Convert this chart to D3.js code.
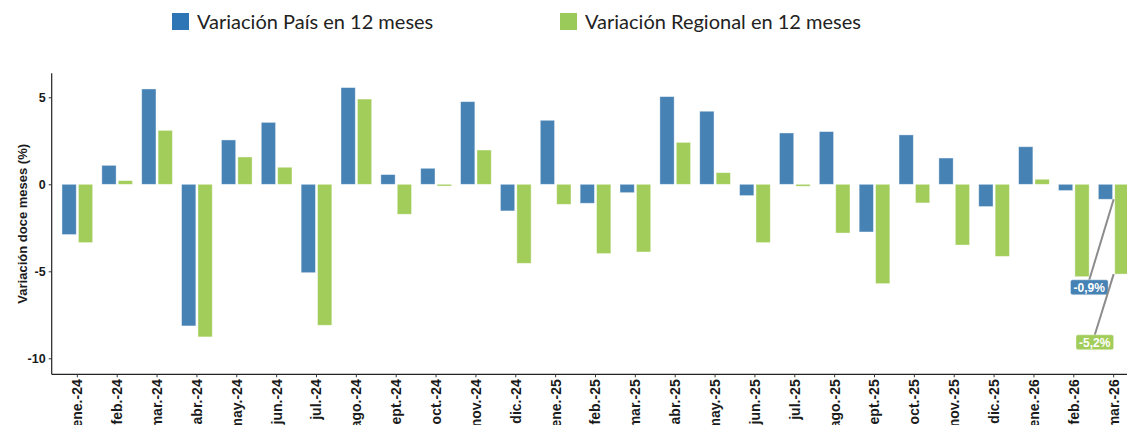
<!DOCTYPE html>
<html>
<head>
<meta charset="utf-8">
<script src="https://cdn.jsdelivr.net/npm/d3@7"></script>
<style>
  body { margin: 0; background: #fff; }
  svg { display: block; }
</style>
</head>
<body>
<svg id="chart"></svg>
<script>
// month labels on the x axis
const months = ["ene.-24", "feb.-24", "mar.-24", "abr.-24", "may.-24", "jun.-24", "jul.-24", "ago.-24", "sept.-24",
    "oct.-24", "nov.-24", "dic.-24", "ene.-25", "feb.-25", "mar.-25", "abr.-25", "may.-25", "jun.-25", "jul.-25",
    "ago.-25", "sept.-25", "oct.-25", "nov.-25", "dic.-25", "ene.-26", "feb.-26", "mar.-26"]

// twelve month variation, country (%)
const pais = [-2.89, 1.09, 5.48, -8.14, 2.55, 3.56, -5.08, 5.56, 0.56, 0.92, 4.75, -1.53, 3.68, -1.09, -0.48,
    5.04, 4.20, -0.65, 2.95, 3.03, -2.74, 2.84, 1.51, -1.28, 2.16, -0.36, -0.86]

// twelve month variation, region (%)
const regional = [-3.35, 0.21, 3.10, -8.77, 1.57, 0.98, -8.10, 4.90, -1.72, -0.10, 1.97, -4.54, -1.15, -3.98, -3.89,
    2.41, 0.67, -3.35, -0.11, -2.80, -5.71, -1.07, -3.49, -4.14, 0.29, -5.31, -5.16]

const series = ["Variación País en 12 meses", "Variación Regional en 12 meses"]
const yTicks = [-10, -5, 0, 5]

let config = {
    width: 1127,
    height: 425,
    plot: { left: 51.7, top: 73.3, bottom: 374.3, right: 1127 },
    colors: { pais: "#4682b4", regional: "#a2cd5a", legendPais: "#2e75b6", legendRegional: "#9acb5a", segment: "#8c8c8c" },
    axisFont: "'Liberation Sans', Arial, sans-serif",
    legendFont: "Lato, 'Open Sans', sans-serif"
}

const svg = d3.select("svg#chart")
    .attr("width", config.width)
    .attr("height", config.height)

const rows = months.map((m, i) => ({ month: m, values: [pais[i], regional[i]] }))

const x0 = d3.scaleBand().domain(months)
    .range([57.4, 1133.6])
    .paddingInner(0.23).paddingOuter(0.115)
const x1 = d3.scaleBand().domain([0, 1])
    .range([0, x0.bandwidth()])
    .paddingInner(0.13)
const y = d3.scaleLinear().domain([-10.92, 6.38]).range([config.plot.bottom, config.plot.top])
const color = [config.colors.pais, config.colors.regional]

// bars
const groups = svg.append("g").selectAll("g")
    .data(rows)
    .join("g")
    .attr("transform", d => `translate(${x0(d.month)},0)`)

groups.selectAll("rect")
    .data(d => d.values.map((v, k) => ({ v: v, k: k })))
    .join("rect")
    .attr("x", d => x1(d.k))
    .attr("width", x1.bandwidth())
    .attr("y", d => y(Math.max(0, d.v)))
    .attr("height", d => Math.abs(y(d.v) - y(0)))
    .style("fill", d => color[d.k])
    .style("stroke", "#fff")
    .style("stroke-opacity", 0.5)
    .style("stroke-width", 0.8)

// y axis
const yAxis = svg.append("g")
    .attr("transform", `translate(${config.plot.left},0)`)
    .call(d3.axisLeft(y).tickValues(yTicks).tickSize(3).tickPadding(3).tickFormat(d3.format("d")))
yAxis.select(".domain").attr("d", `M0,${config.plot.top}V${config.plot.bottom}`).style("stroke", "#222").style("stroke-width", 1.2)
yAxis.selectAll(".tick line").style("stroke", "#333")
yAxis.selectAll(".tick text")
    .style("font-family", config.axisFont)
    .style("font-size", "12.5px")
    .style("font-weight", "bold")
    .style("fill", "#1a1a1a")
    .text(d => d < 0 ? "-" + Math.abs(d) : d)

// x axis (labels run past the bottom edge, as in the original)
const xAxis = svg.append("g")
    .attr("transform", `translate(0,${config.plot.bottom})`)
    .call(d3.axisBottom(x0).tickSize(3).tickSizeOuter(0))
xAxis.select(".domain").attr("d", `M${config.plot.left},0H${config.plot.right}`).style("stroke", "#222").style("stroke-width", 1.2)
xAxis.selectAll(".tick line").style("stroke", "#333")
xAxis.selectAll(".tick text")
    .attr("transform", "rotate(-90)")
    .attr("text-anchor", "end")
    .attr("x", -5)
    .attr("y", 0)
    .attr("dy", "0.35em")
    .style("font-family", config.axisFont)
    .style("font-size", "14px")
    .style("font-weight", "bold")
    .style("fill", "#1a1a1a")

// y title
svg.append("text")
    .attr("transform", `translate(26.5,${(config.plot.top + config.plot.bottom) / 2}) rotate(-90)`)
    .attr("text-anchor", "middle")
    .style("font-family", config.axisFont)
    .style("font-size", "13px")
    .style("font-weight", "bold")
    .style("fill", "#1a1a1a")
    .text("Variación doce meses (%)")

// legend
const legendX = [172, 560]
const legendColors = [config.colors.legendPais, config.colors.legendRegional]
series.forEach((s, i) => {
    svg.append("rect")
        .attr("x", legendX[i]).attr("y", 13)
        .attr("width", 17).attr("height", 17)
        .style("fill", legendColors[i])
    svg.append("text")
        .attr("x", legendX[i] + 25).attr("y", 29)
        .style("font-family", config.legendFont)
        .style("font-size", "20px")
        .style("fill", "#222")
        .text(s)
})

// labels for the last month
const last = rows[rows.length - 1]
const cx = x0(last.month) + x0.bandwidth() / 2
const fmt = v => d3.format(".1f")(v).replace("−", "-").replace(".", ",") + "%"
const labelSpots = [{ dx: -24.5, yv: -5.92 }, { dx: -19, yv: -9.08 }]

last.values.forEach((v, k) => {
    const lx = cx + labelSpots[k].dx
    const ly = y(labelSpots[k].yv)
    svg.append("line")
        .attr("x1", lx).attr("y1", ly - 7)
        .attr("x2", cx).attr("y2", y(v))
        .style("stroke", config.colors.segment)
        .style("stroke-width", 2)
    const g = svg.append("g")
    const t = g.append("text")
        .attr("x", lx).attr("y", ly)
        .attr("dy", "0.36em")
        .attr("text-anchor", "middle")
        .style("font-family", config.axisFont)
        .style("font-size", "12px")
        .style("font-weight", "bold")
        .style("fill", "#fff")
        .text(fmt(v))
    const bb = t.node().getBBox()
    g.insert("rect", "text")
        .attr("x", bb.x - 3).attr("y", ly - 7.5)
        .attr("width", bb.width + 6).attr("height", 15)
        .attr("rx", 2)
        .style("fill", color[k])
        .style("stroke", "#fff")
        .style("stroke-opacity", 0.4)
})
</script>
</body>
</html>
